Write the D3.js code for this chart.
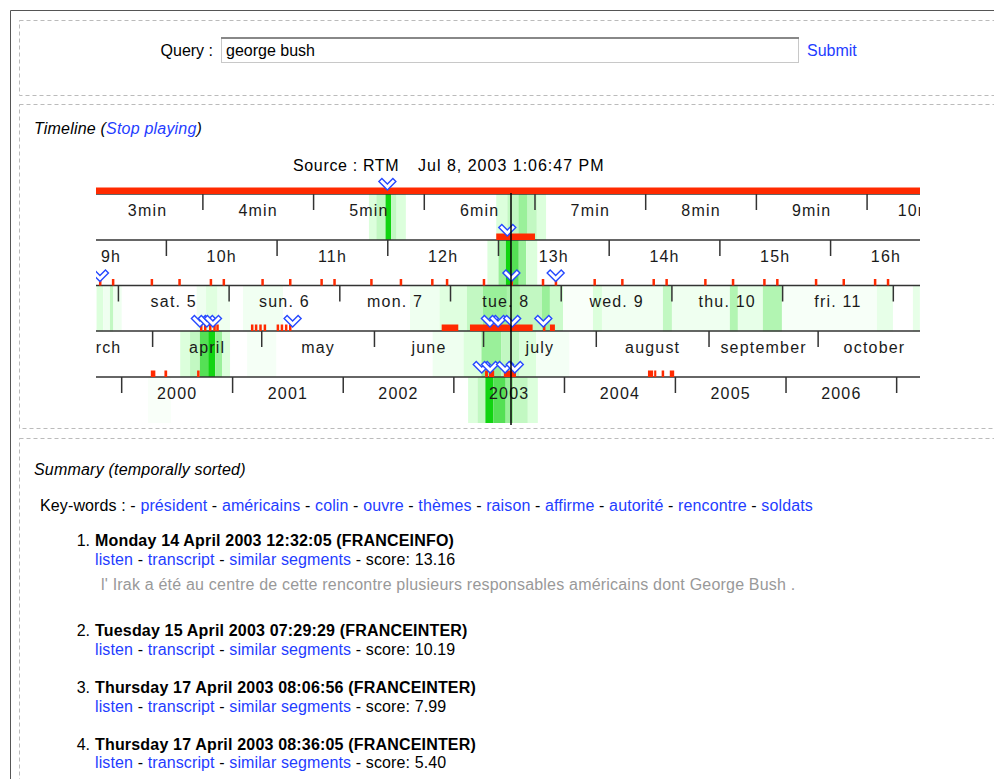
<!DOCTYPE html>
<html>
<head>
<meta charset="utf-8">
<script src="https://cdn.jsdelivr.net/npm/d3@7"></script>
<style>
  body { margin: 0; background: #fff; }
  svg { display: block; font-family: "Liberation Sans", Arial, Helvetica, sans-serif; }
</style>
</head>
<body>
<script>
// ---- data ----------------------------------------------------------------

var centerTime = "2003-07-08 13:06:47";
var sourceLabel = "Source : RTM";
var dateLabel = "Jul 8, 2003 1:06:47 PM";

// heat stripes : [start, end, level 0..6]
var minutesHeat = [
  ["2003-07-08 13:05:30", "2003-07-08 13:05:34", 2], ["2003-07-08 13:05:34", "2003-07-08 13:05:39", 3],
  ["2003-07-08 13:05:39", "2003-07-08 13:05:42", 6], ["2003-07-08 13:05:42", "2003-07-08 13:05:45", 3],
  ["2003-07-08 13:05:45", "2003-07-08 13:05:50", 2],
  ["2003-07-08 13:06:39", "2003-07-08 13:06:45", 2], ["2003-07-08 13:06:45", "2003-07-08 13:06:51", 3],
  ["2003-07-08 13:06:51", "2003-07-08 13:06:56", 4], ["2003-07-08 13:06:56", "2003-07-08 13:07:01", 3],
  ["2003-07-08 13:07:01", "2003-07-08 13:07:06", 2]
];
var hoursHeat = [
  ["2003-07-08 12:54", "2003-07-08 13:00", 2], ["2003-07-08 13:00", "2003-07-08 13:04", 4],
  ["2003-07-08 13:04", "2003-07-08 13:07", 6], ["2003-07-08 13:07", "2003-07-08 13:11", 5],
  ["2003-07-08 13:11", "2003-07-08 13:15", 4], ["2003-07-08 13:15", "2003-07-08 13:21", 2]
];
var daysHeat = [
  ["2003-07-04 19:16", "2003-07-04 20:43", 2], ["2003-07-04 20:43", "2003-07-04 22:10", 1],
  ["2003-07-04 22:10", "2003-07-04 22:54", 3], ["2003-07-04 22:54", "2003-07-05 00:42", 1],
  ["2003-07-05 16:58", "2003-07-05 19:00", 1], ["2003-07-05 19:00", "2003-07-05 21:30", 1.8],
  ["2003-07-05 21:30", "2003-07-06 00:11", 1],
  ["2003-07-06 03:00", "2003-07-06 11:40", 0.9],
  ["2003-07-07 15:13", "2003-07-07 21:36", 1], ["2003-07-07 21:36", "2003-07-08 03:33", 1.8],
  ["2003-07-08 03:33", "2003-07-08 07:02", 3], ["2003-07-08 07:02", "2003-07-08 12:14", 4],
  ["2003-07-08 12:14", "2003-07-08 15:03", 3.6], ["2003-07-08 15:03", "2003-07-08 19:49", 3],
  ["2003-07-08 19:49", "2003-07-08 21:33", 4], ["2003-07-08 21:33", "2003-07-09 00:23", 2.6],
  ["2003-07-09 00:23", "2003-07-09 06:53", 0.4],
  ["2003-07-09 06:53", "2003-07-09 08:50", 2], ["2003-07-09 08:50", "2003-07-09 22:03", 0.9],
  ["2003-07-09 22:03", "2003-07-10 00:00", 3], ["2003-07-10 00:00", "2003-07-10 12:34", 1],
  ["2003-07-10 12:34", "2003-07-10 14:18", 3.4], ["2003-07-10 14:18", "2003-07-10 19:43", 1.4],
  ["2003-07-10 19:43", "2003-07-10 23:51", 3.4], ["2003-07-10 23:51", "2003-07-11 20:27", 0.5],
  ["2003-07-11 20:27", "2003-07-11 23:55", 1.4], ["2003-07-12 04:15", "2003-07-12 05:45", 1.4]
];
var monthsHeat = [
  ["2003-04-08 14:00", "2003-04-11 07:00", 2], ["2003-04-11 07:00", "2003-04-14 00:00", 3],
  ["2003-04-14 00:00", "2003-04-16 07:00", 5], ["2003-04-16 07:00", "2003-04-18 05:00", 6],
  ["2003-04-18 05:00", "2003-04-20 02:00", 4], ["2003-04-20 02:00", "2003-04-22 07:00", 2],
  ["2003-04-27 00:00", "2003-05-05 00:00", 0.6],
  ["2003-06-17 00:00", "2003-06-25 12:00", 1], ["2003-06-25 12:00", "2003-06-30 10:00", 2],
  ["2003-06-30 10:00", "2003-07-05 22:00", 4], ["2003-07-05 22:00", "2003-07-10 22:00", 3],
  ["2003-07-10 22:00", "2003-07-15 12:00", 2], ["2003-07-15 12:00", "2003-07-24 14:00", 0.7]
];
var yearsHeat = [
  ["2000-03-28 00:00", "2000-06-12 00:00", 0.4],
  ["2003-02-17 00:00", "2003-03-20 00:00", 2], ["2003-03-20 00:00", "2003-04-15 00:00", 3],
  ["2003-04-15 00:00", "2003-05-11 00:00", 6], ["2003-05-11 00:00", "2003-06-21 00:00", 5],
  ["2003-06-21 00:00", "2003-07-16 00:00", 4], ["2003-07-16 00:00", "2003-09-02 00:00", 3],
  ["2003-09-02 00:00", "2003-10-05 00:00", 2]
];

// events : [start, end] (no end = instant) ; marks = blue chevrons
var topEvents = [["2003-07-08 13:00:00", "2003-07-08 13:15:00"]];
var topMarks = ["2003-07-08 13:05:40"];
var minutesEvents = [["2003-07-08 13:06:39", "2003-07-08 13:07:00"]];
var minutesMarks = ["2003-07-08 13:06:45"];
var hoursEvents = ["09:24", "09:31", "09:52", "10:07", "10:24", "10:31", "10:52", "11:07", "11:24", "11:31",
  "11:51", "12:07", "12:24", "12:32", "12:52", "13:07", "13:24", "13:31", "13:52", "14:07", "14:24", "14:31",
  "14:52", "15:07", "15:24", "15:31", "15:52", "16:07", "16:24", "16:31"].map(function(h) { return ["2003-07-08 " + h]; });
var hoursMarks = ["2003-07-08 09:24", "2003-07-08 13:07", "2003-07-08 13:31"];
var daysEvents = [
  ["2003-07-05 17:54"], ["2003-07-05 18:46"], ["2003-07-05 19:51"], ["2003-07-05 20:47"], ["2003-07-05 21:26"],
  ["2003-07-06 04:57"], ["2003-07-06 05:48"], ["2003-07-06 06:45"], ["2003-07-06 07:42"],
  ["2003-07-06 10:31"], ["2003-07-06 11:24"], ["2003-07-06 12:19"], ["2003-07-06 13:12"],
  ["2003-07-07 22:05", "2003-07-08 01:41"], ["2003-07-08 04:13", "2003-07-08 17:48"],
  ["2003-07-08 20:15"], ["2003-07-08 21:33", "2003-07-08 22:38"]
];
var daysMarks = ["2003-07-05 17:40", "2003-07-05 19:10", "2003-07-05 20:30", "2003-07-06 13:46",
  "2003-07-08 08:33", "2003-07-08 10:18", "2003-07-08 13:22", "2003-07-08 20:07"];
var monthsEvents = [
  ["2003-03-31 12:00", "2003-04-01 18:00"], ["2003-04-04 06:00", "2003-04-05 00:00"], ["2003-04-13 12:00"],
  ["2003-07-01 10:00", "2003-07-02 05:00"], ["2003-07-02 12:00", "2003-07-03 22:00"], ["2003-07-06 14:00", "2003-07-09 22:00"],
  ["2003-08-15 05:00", "2003-08-16 15:00"], ["2003-08-16 22:00", "2003-08-17 12:00"], ["2003-08-19 06:00"],
  ["2003-08-21 05:00", "2003-08-22 10:00"]
];
var monthsMarks = ["2003-06-30 12:00", "2003-07-02 19:00", "2003-07-06 22:00", "2003-07-09 14:00"];

var keywords = ["président", "américains", "colin", "ouvre", "thèmes", "raison", "affirme", "autorité", "rencontre", "soldats"];
var results = [
  { title: "Monday 14 April 2003 12:32:05 (FRANCEINFO)", score: "13.16",
    excerpt: "l' Irak a été au centre de cette rencontre plusieurs responsables américains dont George Bush ." },
  { title: "Tuesday 15 April 2003 07:29:29 (FRANCEINTER)", score: "10.19" },
  { title: "Thursday 17 April 2003 08:06:56 (FRANCEINTER)", score: "7.99" },
  { title: "Thursday 17 April 2003 08:36:05 (FRANCEINTER)", score: "5.40" }
];

// ---- drawing -------------------------------------------------------------

var width = 994, height = 779;
var blue = "#1f3dff", red = "#ff2a00", chevronBlue = "#2548ff";

var parse = function(s) {
  return d3.timeParse("%Y-%m-%d %H:%M:%S")(s) || d3.timeParse("%Y-%m-%d %H:%M")(s);
};
var center = parse(centerTime);

var heatColor = d3.scaleLinear().domain([0, 1, 2, 3, 4, 5, 6])
  .range(["#ffffff", "#effff0", "#dcffdc", "#c2f8c2", "#9af09a", "#55e055", "#11d411"]);

var svg = d3.select("body").append("svg").attr("width", width).attr("height", height);

// page frame + dashed boxes
svg.append("path").attr("d", "M10.5," + height + "V10.5H" + width)
  .attr("fill", "none").attr("stroke", "#555");
[[20, 95], [104, 428], [438, 800]].forEach(function(b) {
  svg.append("rect").attr("x", 19.5).attr("y", b[0] + 0.5).attr("width", 1000).attr("height", b[1] - b[0])
    .attr("fill", "none").attr("stroke", "#bbb").attr("stroke-dasharray", "4,3");
});

// query row
svg.append("text").attr("x", 213).attr("y", 56).attr("text-anchor", "end")
  .style("font-size", "16px").text("Query :");
svg.append("rect").attr("x", 221.5).attr("y", 37.5).attr("width", 577).attr("height", 25)
  .attr("fill", "#fff").attr("stroke", "#c8c8c8");
svg.append("line").attr("x1", 221).attr("x2", 799).attr("y1", 38).attr("y2", 38)
  .attr("stroke", "#888").attr("stroke-width", 2);
svg.append("text").attr("x", 226).attr("y", 56).style("font-size", "16px").text("george bush");
svg.append("text").attr("x", 807).attr("y", 56).style("font-size", "16px").attr("fill", blue).text("Submit");

// timeline heading
var th = svg.append("text").attr("x", 34).attr("y", 134).style("font-size", "16px")
  .style("font-style", "italic").style("letter-spacing", "0.2px");
th.append("tspan").text("Timeline (");
th.append("tspan").attr("fill", blue).text("Stop playing");
th.append("tspan").text(")");

svg.append("text").attr("x", 293).attr("y", 171).style("font-size", "16px").style("letter-spacing", "0.65px").text(sourceLabel);
svg.append("text").attr("x", 418).attr("y", 171).style("font-size", "16px").style("letter-spacing", "1px").text(dateLabel);

// bands
var x0 = 96, x1 = 920, xc = 511, ppu = 110.7, bandH = 46;
var day = 864e5;
var bands = [
  { top: 194, unit: 6e4, interval: d3.timeMinute, label: function(d) { return d.getMinutes() + "min"; },
    heat: minutesHeat, events: minutesEvents, marks: minutesMarks },
  { top: 240, unit: 36e5, interval: d3.timeHour, label: function(d) { return d.getHours() + "h"; },
    heat: hoursHeat, events: hoursEvents, marks: hoursMarks },
  { top: 285.5, unit: day, interval: d3.timeDay,
    label: function(d) { return d3.timeFormat("%a")(d).toLowerCase() + ". " + d.getDate(); },
    heat: daysHeat, events: daysEvents, marks: daysMarks },
  { top: 331, unit: 30.44 * day, interval: d3.timeMonth,
    label: function(d) { return d3.timeFormat("%B")(d).toLowerCase(); },
    heat: monthsHeat, events: monthsEvents, marks: monthsMarks },
  { top: 377, unit: 365.25 * day, interval: d3.timeYear, label: d3.timeFormat("%Y"),
    heat: yearsHeat, events: [], marks: [] }
];
bands.forEach(function(b) {
  b.scale = d3.scaleTime()
    .domain([new Date(+center - (xc - x0) / ppu * b.unit), new Date(+center + (x1 - xc) / ppu * b.unit)])
    .range([x0, x1]);
});

svg.append("clipPath").attr("id", "tl").append("rect")
  .attr("x", x0).attr("y", 170).attr("width", x1 - x0).attr("height", 265);
var tl = svg.append("g").attr("clip-path", "url(#tl)");

// heat
bands.forEach(function(b) {
  tl.append("g").selectAll("rect").data(b.heat).enter().append("rect")
    .attr("x", function(d) { return b.scale(parse(d[0])); })
    .attr("width", function(d) { return b.scale(parse(d[1])) - b.scale(parse(d[0])); })
    .attr("y", b.top).attr("height", bandH)
    .attr("fill", function(d) { return heatColor(d[2]); });
});

// lines, ticks, labels
bands.forEach(function(b) {
  var dom = b.scale.domain();
  var ticks = b.interval.range(b.interval.floor(dom[0]), dom[1]);
  // labels only for intervals that reach into the visible band
  var labelled = ticks.filter(function(d) {
    return b.scale(b.interval.offset(d, 1)) > x0 + 20 && b.scale(d) < x1 - 20;
  });
  tl.append("line").attr("x1", x0).attr("x2", x1).attr("y1", b.top).attr("y2", b.top)
    .attr("stroke", "#333").attr("stroke-width", 1.5);
  tl.append("g").selectAll("line").data(ticks).enter().append("line")
    .attr("x1", function(d) { return b.scale(d); }).attr("x2", function(d) { return b.scale(d); })
    .attr("y1", b.top).attr("y2", b.top + 16)
    .attr("stroke", "#333").attr("stroke-width", 1.5);
  tl.append("g").selectAll("text").data(labelled).enter().append("text")
    .attr("x", function(d) { return (b.scale(d) + b.scale(b.interval.offset(d, 1))) / 2; })
    .attr("y", b.top + 21.5)
    .attr("text-anchor", "middle")
    .style("font-size", "16px").style("letter-spacing", "1.2px").attr("fill", "#1a1a1a")
    .text(b.label);
});

// events + chevrons, sitting on a line
function drawEvents(scale, base, events, marks) {
  tl.append("g").selectAll("rect").data(events).enter().append("rect")
    .attr("x", function(d) { return d[1] ? scale(parse(d[0])) : scale(parse(d[0])) - 1; })
    .attr("width", function(d) { return d[1] ? scale(parse(d[1])) - scale(parse(d[0])) : 2.5; })
    .attr("y", base - 6.5).attr("height", 6.5)
    .attr("fill", red);
  tl.append("g").selectAll("path").data(marks).enter().append("path")
    .attr("transform", function(d) { return "translate(" + scale(parse(d)) + "," + (base - 5) + ")"; })
    .attr("d", "M-8.5,-7.5L-5.5,-10.5L0,-5L5.5,-10.5L8.5,-7.5L0,1Z")
    .attr("fill", "#fff").attr("stroke", chevronBlue).attr("stroke-width", 1.4);
}
drawEvents(bands[0].scale, bands[0].top, topEvents, topMarks);
bands.forEach(function(b, i) {
  if (i < bands.length - 1) drawEvents(b.scale, bands[i + 1].top, b.events, b.marks);
});

// center line
tl.append("line").attr("x1", bands[0].scale(center)).attr("x2", bands[0].scale(center))
  .attr("y1", 193).attr("y2", 425).attr("stroke", "#000").attr("stroke-width", 1.5);

// summary
svg.append("text").attr("x", 34).attr("y", 475).style("font-size", "16px").style("font-style", "italic")
  .style("letter-spacing", "0.2px").text("Summary (temporally sorted)");

var kw = svg.append("text").attr("x", 40).attr("y", 511).style("font-size", "16px").style("letter-spacing", "0.12px");
kw.append("tspan").text("Key-words : - ");
keywords.forEach(function(k, i) {
  kw.append("tspan").attr("fill", blue).text(k);
  if (i < keywords.length - 1) kw.append("tspan").text(" - ");
});

var itemY = [546, 636, 693, 749.5];
results.forEach(function(r, i) {
  var y = itemY[i];
  svg.append("text").attr("x", 90).attr("y", y).attr("text-anchor", "end").style("font-size", "16px").text((i + 1) + ".");
  svg.append("text").attr("x", 95).attr("y", y).style("font-size", "16px").style("font-weight", "bold")
    .style("letter-spacing", "0.18px").text(r.title);
  var l = svg.append("text").attr("x", 95).attr("y", y + 18.5).style("font-size", "16px").style("letter-spacing", "0.12px");
  l.append("tspan").attr("fill", blue).text("listen");
  l.append("tspan").text(" - ");
  l.append("tspan").attr("fill", blue).text("transcript");
  l.append("tspan").text(" - ");
  l.append("tspan").attr("fill", blue).text("similar segments");
  l.append("tspan").text(" - score: " + r.score);
  if (r.excerpt) {
    svg.append("text").attr("x", 101).attr("y", y + 44).style("font-size", "16px").style("letter-spacing", "0.2px")
      .attr("fill", "#999").text(r.excerpt);
  }
});
</script>
</body>
</html>
